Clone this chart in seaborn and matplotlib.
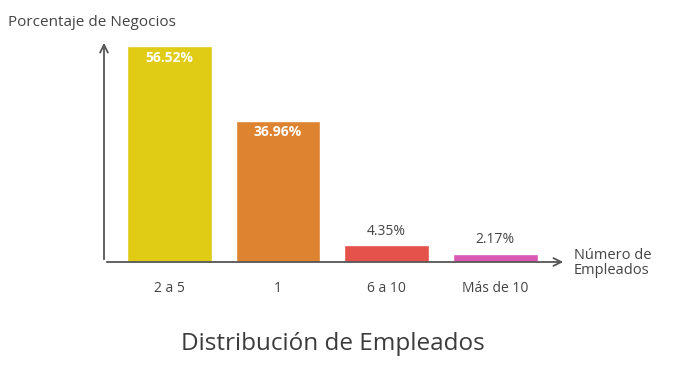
import matplotlib
matplotlib.use("Agg")
import matplotlib.pyplot as plt
import seaborn as sns
import pandas as pd

# datos del grafico
categorias = ["2 a 5", "1", "6 a 10", "Más de 10"]
porcentajes = [56.52, 36.96, 4.35, 2.17]
colores = ["#E0CB15", "#DE8330", "#E5524B", "#D858B2"]

sns.set_theme(style="white")
plt.rcParams['font.family'] = ['Open Sans', 'DejaVu Sans']
gris = "#444444"

df = pd.DataFrame({"Empleados": categorias, "Porcentaje": porcentajes})

fig = plt.figure(figsize=(6.88, 3.74), dpi=100)
ax = fig.add_axes([104 / 688, 112 / 374, 462 / 688, 222 / 374])

sns.barplot(data=df, x="Empleados", y="Porcentaje", hue="Empleados",
            palette=colores, legend=False, width=0.78, saturation=1, ax=ax)

ax.set_xlim(-0.6, 3.65)
ax.set_ylim(0, 58.1)
for s in ax.spines.values():
    s.set_visible(False)
ax.set_yticks([])
ax.set_xlabel("")
ax.set_ylabel("")
ax.tick_params(axis="x", length=0, pad=14, labelsize=10, labelcolor=gris)

# etiquetas de valores
for i, v in enumerate(porcentajes):
    if v > 20:
        ax.text(i, v - 1.2, f"{v:.2f}%", ha="center", va="top", color="white",
                fontsize=10, fontweight="bold")
    else:
        ax.text(i, v + 1.8, f"{v:.2f}%", ha="center", va="bottom", color=gris,
                fontsize=10)

# ejes con flechas
flecha = dict(arrowstyle="->", color="#555555", lw=1.3, mutation_scale=14)
ax.annotate("", xy=(0, 1.0), xytext=(0, 0), xycoords="axes fraction",
            arrowprops=flecha)
ax.annotate("", xy=(1.0, 0), xytext=(0, 0), xycoords="axes fraction",
            arrowprops=flecha)

fig.text(8 / 688, 1 - 22 / 374, "Porcentaje de Negocios", ha="left", va="center",
         fontsize=11, color=gris)
fig.text(574 / 688, 1 - 263 / 374, "Número de\nEmpleados", ha="left", va="center",
         fontsize=10.5, color=gris, linespacing=1.0)
fig.text(333 / 688, 1 - 344 / 374, "Distribución de Empleados", ha="center",
         va="center", fontsize=17.5, color="#3c3c3c")

fig.savefig("out.png", dpi=100)
